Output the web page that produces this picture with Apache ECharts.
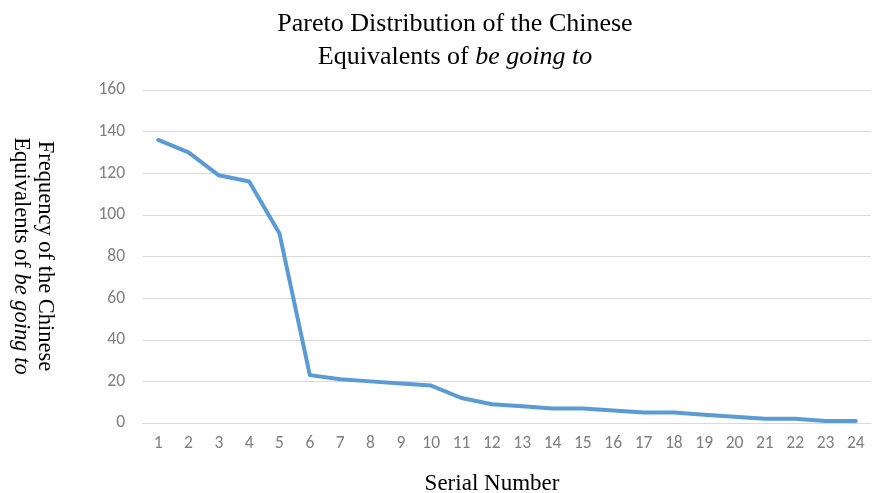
<!DOCTYPE html>
<html><head><meta charset="utf-8">
<script src="https://cdn.jsdelivr.net/npm/echarts@6/dist/echarts.min.js"></script>
<style>html,body{margin:0;padding:0;background:#fff}#c{width:873px;height:493px}</style>
</head><body><div id="c"></div>
<script>
const categories = ['1','2','3','4','5','6','7','8','9','10','11','12','13','14','15','16','17','18','19','20','21','22','23','24'];
const frequency = [136,130,119,116,91,23,21,20,19,18,12,9,8,7,7,6,5,5,4,3,2,2,1,1];
const yTicks = {min:0, max:160, interval:20};

const chart = echarts.init(document.getElementById('c'));
const serif = '"Liberation Serif", "Times New Roman", serif';
const sans = 'Carlito, "Open Sans", "Liberation Sans", sans-serif';
chart.setOption({
  animation:false,
  grid:{left:143,right:2,top:90,bottom:70,containLabel:false},
  xAxis:{type:'category',data:categories,boundaryGap:true,
    axisLine:{show:true,lineStyle:{color:'#d9d9d9',width:1}},
    axisTick:{show:false},
    axisLabel:{color:'#7f7f7f',fontSize:17.5,fontFamily:sans,margin:12}},
  yAxis:{type:'value',min:yTicks.min,max:yTicks.max,interval:yTicks.interval,
    axisLine:{show:false},axisTick:{show:false},
    splitLine:{lineStyle:{color:'#d9d9d9',width:1}},
    axisLabel:{color:'#7f7f7f',fontSize:17.5,fontFamily:sans,margin:18}},
  series:[{type:'line',data:frequency,showSymbol:false,symbol:'none',
    lineStyle:{color:'#5b9bd5',width:4,join:'round',cap:'round'}}],
  graphic:[
    {type:'text',x:455,y:8,style:{
      text:'{n|Pareto Distribution of the Chinese}\n{n|Equivalents of }{i|be going to}',
      textAlign:'center',fill:'#000',
      rich:{n:{fontFamily:serif,fontSize:26,lineHeight:33,fill:'#000'},
            i:{fontFamily:serif,fontSize:26,lineHeight:33,fontStyle:'italic',fill:'#000'}}}},
    {type:'text',x:492,y:484,style:{text:'Serial Number',font:'23px '+serif,fill:'#000',
      textAlign:'center',textVerticalAlign:'middle'}},
    {type:'text',x:33,y:256,rotation:-Math.PI/2,style:{
      text:'{n|Frequency of the Chinese}\n{n|Equivalents of }{i|be going to}',
      textAlign:'center',textVerticalAlign:'middle',fill:'#000',
      rich:{n:{fontFamily:serif,fontSize:22.5,lineHeight:24,fill:'#000'},
            i:{fontFamily:serif,fontSize:22.5,lineHeight:24,fontStyle:'italic',fill:'#000'}}}}
  ]
});
</script></body></html>
